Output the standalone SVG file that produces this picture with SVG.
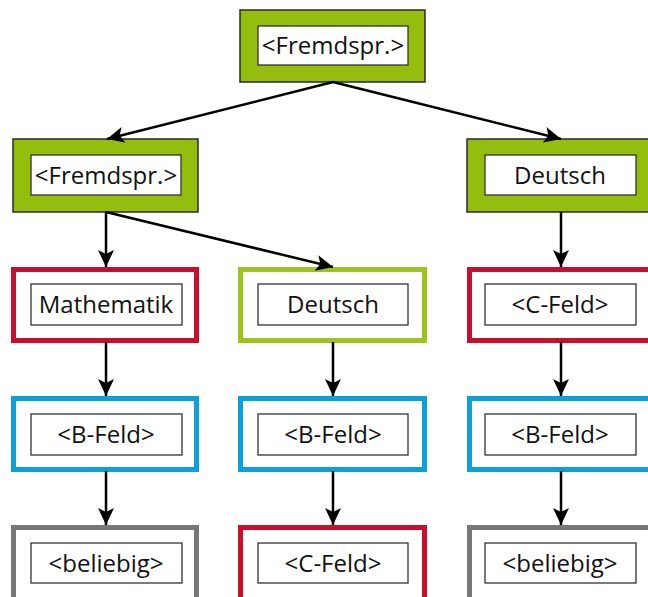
<svg xmlns="http://www.w3.org/2000/svg" width="648" height="597" viewBox="0 0 648 597">
<defs>
<marker id="ah" markerUnits="userSpaceOnUse" markerWidth="18" markerHeight="16" refX="17" refY="8" orient="auto">
<path d="M0,0 L17,8 L0,16 L4,8 Z" fill="#000"/>
</marker>
</defs>
<style>
.g{fill:#94BD0E;stroke:#2a2a2a;stroke-width:1.5}
.o{fill:#fff;stroke-width:5}
.red{stroke:#C8102E}
.lg{stroke:#9CC41A}
.bl{stroke:#0AA0DC}
.gr{stroke:#777}
.in{fill:#fff;stroke:#333;stroke-width:1.3}
text{font-family:"Open Sans","Noto Sans",sans-serif;font-size:24px;fill:#111;text-anchor:middle}
.c line{stroke:#000;stroke-width:2.5;marker-end:url(#ah)}
</style>
<rect width="648" height="597" fill="#fff"/>
<g id="n1"><rect class="g" x="240" y="10" width="185" height="72"/><rect class="in" x="258" y="26" width="150" height="39"/><text x="333" y="54">&lt;Fremdspr.&gt;</text></g>
<g id="n2"><rect class="g" x="13" y="139" width="185" height="73"/><rect class="in" x="31" y="155" width="150" height="40"/><text x="106" y="184">&lt;Fremdspr.&gt;</text></g>
<g id="n3"><rect class="g" x="467" y="139" width="190" height="73"/><rect class="in" x="485" y="155" width="151" height="40"/><text x="560" y="184">Deutsch</text></g>
<g id="n4"><rect class="o red" x="13.5" y="269.5" width="183" height="71"/><rect class="in" x="31" y="284" width="151" height="41"/><text x="106" y="313">Mathematik</text></g>
<g id="n5"><rect class="o lg" x="240.5" y="269.5" width="184" height="71"/><rect class="in" x="258" y="284" width="150" height="41"/><text x="333" y="313">Deutsch</text></g>
<g id="n6"><rect class="o red" x="469.5" y="269.5" width="190" height="71"/><rect class="in" x="485" y="284" width="151" height="41"/><text x="560" y="313">&lt;C-Feld&gt;</text></g>
<g id="n7"><rect class="o bl" x="13.5" y="398.5" width="183" height="71"/><rect class="in" x="31" y="414" width="151" height="41"/><text x="106" y="443">&lt;B-Feld&gt;</text></g>
<g id="n8"><rect class="o bl" x="240.5" y="398.5" width="184" height="71"/><rect class="in" x="258" y="414" width="150" height="41"/><text x="333" y="443">&lt;B-Feld&gt;</text></g>
<g id="n9"><rect class="o bl" x="469.5" y="398.5" width="190" height="71"/><rect class="in" x="485" y="414" width="151" height="41"/><text x="560" y="443">&lt;B-Feld&gt;</text></g>
<g id="n10"><rect class="o gr" x="13.5" y="527.5" width="183" height="80"/><rect class="in" x="31" y="543" width="151" height="40"/><text x="106" y="572">&lt;beliebig&gt;</text></g>
<g id="n11"><rect class="o red" x="240.5" y="527.5" width="184" height="80"/><rect class="in" x="258" y="543" width="150" height="40"/><text x="333" y="572">&lt;C-Feld&gt;</text></g>
<g id="n12"><rect class="o gr" x="469.5" y="527.5" width="190" height="80"/><rect class="in" x="485" y="543" width="151" height="40"/><text x="560" y="572">&lt;beliebig&gt;</text></g>
<g id="connectors" class="c">
<line x1="333" y1="82" x2="107" y2="139"/>
<line x1="333" y1="82" x2="561" y2="139"/>
<line x1="106" y1="212" x2="106" y2="267"/>
<line x1="106" y1="212" x2="333" y2="267"/>
<line x1="561" y1="212" x2="561" y2="267"/>
<line x1="106" y1="342" x2="106" y2="396"/>
<line x1="333" y1="342" x2="333" y2="396"/>
<line x1="561" y1="342" x2="561" y2="396"/>
<line x1="106" y1="471" x2="106" y2="525"/>
<line x1="333" y1="471" x2="333" y2="525"/>
<line x1="561" y1="471" x2="561" y2="525"/>
</g>
</svg>
